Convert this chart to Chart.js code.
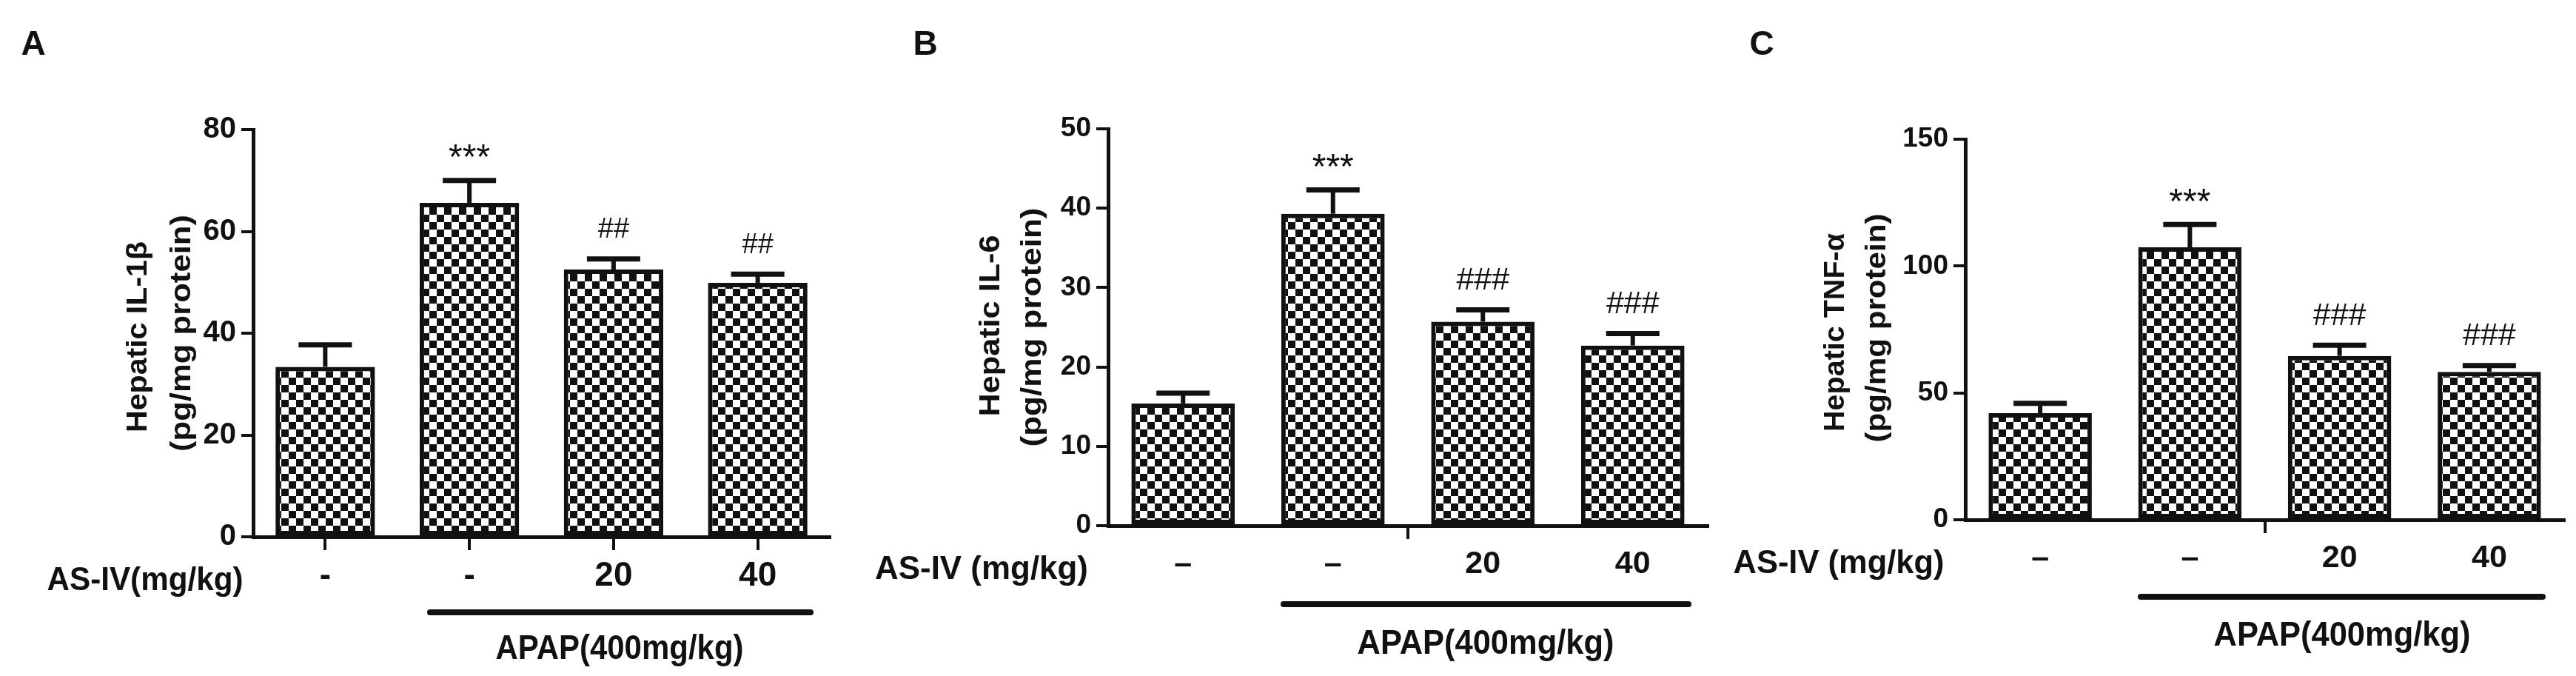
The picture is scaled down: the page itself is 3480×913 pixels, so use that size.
<!DOCTYPE html>
<html>
<head>
<meta charset="utf-8">
<script src="https://cdn.jsdelivr.net/npm/chart.js@4.4.1/dist/chart.umd.min.js"></script>
<style>
  html, body { margin: 0; padding: 0; background: #fff; overflow: hidden; }
  #wrap { position: relative; width: 3480px; height: 913px; }
  #wrap canvas { position: absolute; top: 0; }
</style>
</head>
<body>
<div id="wrap">
  <canvas id="panelA" width="1160" height="913" style="left:0px"></canvas>
  <canvas id="panelB" width="1160" height="913" style="left:1160px"></canvas>
  <canvas id="panelC" width="1160" height="913" style="left:2320px"></canvas>
</div>
<script>
// groups: control, APAP, APAP + AS-IV 20, APAP + AS-IV 40
const doseTicksA = ["-", "-", "20", "40"];
const doseTicksBC = ["\u2013", "\u2013", "20", "40"];

const il1bMean = [33.4, 65.6, 52.5, 49.9];
const il1bSem = [4.3, 4.4, 2.1, 1.7];
const il1bSig = ["", "***", "##", "##"];
const il1bTicks = [0, 20, 40, 60, 80];

const il6Mean = [15.4, 39.3, 25.7, 22.7];
const il6Sem = [1.3, 3.0, 1.5, 1.5];
const il6Sig = ["", "***", "###", "###"];
const il6Ticks = [0, 10, 20, 30, 40, 50];

const tnfMean = [42.0, 107.4, 64.6, 58.3];
const tnfSem = [3.9, 9.0, 4.2, 2.5];
const tnfSig = ["", "***", "###", "###"];
const tnfTicks = [0, 50, 100, 150];

const INK = "#111";
const SANS = "'Liberation Sans', Arial, sans-serif";
const NARROW = "'Liberation Sans Narrow', 'Arial Narrow', 'Liberation Sans', sans-serif";

function checker(ctx) {
  const c = document.createElement("canvas");
  c.width = 20; c.height = 20;
  const g = c.getContext("2d");
  g.fillStyle = "#fff"; g.fillRect(0, 0, 20, 20);
  g.fillStyle = INK;
  g.fillRect(0, 0, 10, 10);
  g.fillRect(10, 10, 10, 10);
  return ctx.createPattern(c, "repeat");
}

// draw text centred visually at (x, y), squeezed/stretched to width w
function fitText(ctx, txt, x, y, font, w, rotate) {
  ctx.save();
  ctx.font = font;
  ctx.translate(x, y);
  if (rotate) ctx.rotate(-Math.PI / 2);
  const m = ctx.measureText(txt);
  if (w) ctx.scale(w / m.width, 1);
  ctx.textAlign = "center";
  ctx.textBaseline = "alphabetic";
  ctx.fillStyle = INK;
  ctx.fillText(txt, 0, (m.actualBoundingBoxAscent - m.actualBoundingBoxDescent) / 2);
  ctx.restore();
}

const deco = {
  id: "deco",
  afterDatasetsDraw(chart, args, o) {
    const ctx = chart.ctx;
    const y = chart.scales.y;
    const meta = chart.getDatasetMeta(0);
    ctx.save();
    ctx.strokeStyle = INK;
    meta.data.forEach((bar, i) => {
      const top = y.getPixelForValue(o.mean[i]);
      const tip = y.getPixelForValue(o.mean[i] + o.sem[i]);
      ctx.lineWidth = 6;
      ctx.beginPath(); ctx.moveTo(bar.x, top); ctx.lineTo(bar.x, tip); ctx.stroke();
      ctx.lineWidth = 7;
      ctx.beginPath(); ctx.moveTo(bar.x - 36, tip); ctx.lineTo(bar.x + 36, tip); ctx.stroke();
      const s = o.sig[i];
      if (s) {
        const isStar = s[0] === "*";
        const size = isStar ? 48 : (s.length === 2 ? 38 : 43);
        fitText(ctx, s, bar.x, tip - (isStar ? 40 : 42), size + "px " + SANS, 0);
      }
    });
    ctx.restore();
  },
  afterDraw(chart, args, o) {
    const ctx = chart.ctx;
    const L = o.layout;
    fitText(ctx, o.letter, L.letter[0], L.letter[1], "bold 46px " + SANS, 0);
    fitText(ctx, o.title[0], L.title1[0], L.title1[1], "bold 38px " + SANS, L.title1[2], true);
    fitText(ctx, o.title[1], L.title2[0], L.title2[1], "bold 38px " + SANS, L.title2[2], true);
    fitText(ctx, o.rowLabel, L.row[0], L.row[1], "bold 44px " + SANS, L.row[2]);
    fitText(ctx, "APAP(400mg/kg)", L.apap[0], L.apap[1], "bold 46px " + SANS, L.apap[2]);
    ctx.save();
    ctx.strokeStyle = INK;
    ctx.lineWidth = 8;
    ctx.lineCap = "round";
    ctx.beginPath();
    ctx.moveTo(L.line[0], L.line[2]);
    ctx.lineTo(L.line[1], L.line[2]);
    ctx.stroke();
    ctx.restore();
  }
};

function makePanel(id, p) {
  const ctx = document.getElementById(id).getContext("2d");
  const a = p.layout.area;
  return new Chart(ctx, {
    type: "bar",
    data: {
      labels: p.ticks,
      datasets: [{
        data: p.mean,
        backgroundColor: checker(ctx),
        borderColor: INK,
        borderWidth: 6,
        borderSkipped: false,
        barPercentage: 0.69,
        categoryPercentage: 1
      }]
    },
    options: {
      responsive: false,
      animation: false,
      devicePixelRatio: 1,
      layout: { padding: { left: 0, right: 1160 - a.right, top: a.top, bottom: 0 } },
      plugins: {
        legend: { display: false },
        tooltip: { enabled: false },
        deco: p
      },
      scales: {
        x: {
          grid: {
            display: true,
            drawOnChartArea: false,
            drawTicks: true,
            tickLength: 18,
            lineWidth: 4,
            offset: p.midTick,
            color: p.midTick ? (c) => (c.index === 2 ? INK : "rgba(0,0,0,0)") : INK
          },
          border: { display: true, color: INK, width: 5 },
          ticks: {
            color: INK,
            font: p.xFont,
            padding: 8,
            maxRotation: 0,
            autoSkip: false
          },
          afterFit(s) { s.height = 913 - a.bottom; }
        },
        y: {
          min: p.yTicks[0],
          max: p.yTicks[p.yTicks.length - 1],
          afterBuildTicks(s) { s.ticks = p.yTicks.map(v => ({ value: v })); },
          grid: { drawOnChartArea: false, drawTicks: true, tickLength: 16, lineWidth: 4, color: INK },
          border: { display: true, color: INK, width: 5 },
          ticks: { color: INK, font: p.yFont, padding: 7 },
          afterFit(s) { s.width = a.left; }
        }
      }
    },
    plugins: [deco]
  });
}

makePanel("panelA", {
  ticks: doseTicksA, mean: il1bMean, sem: il1bSem, sig: il1bSig, yTicks: il1bTicks,
  letter: "A", title: ["Hepatic IL-1\u03b2", "(pg/mg protein)"], rowLabel: "AS-IV(mg/kg)",
  midTick: false,
  xFont: { family: NARROW, size: 46, weight: "bold" },
  yFont: { family: NARROW, size: 40, weight: "bold" },
  layout: {
    area: { left: 342, right: 1121, top: 175, bottom: 725 },
    letter: [45, 58], title1: [188, 455, 258], title2: [247, 450, 320],
    row: [196, 785, 265], apap: [837, 878, 335], line: [581, 1095, 827]
  }
});

makePanel("panelB", {
  ticks: doseTicksBC, mean: il6Mean, sem: il6Sem, sig: il6Sig, yTicks: il6Ticks,
  letter: "B", title: ["Hepatic IL-6", "(pg/mg protein)"], rowLabel: "AS-IV (mg/kg)",
  midTick: true,
  xFont: { family: SANS, size: 43, weight: "bold" },
  yFont: { family: SANS, size: 37, weight: "bold" },
  layout: {
    area: { left: 337, right: 1147, top: 174, bottom: 710 },
    letter: [90, 58], title1: [180, 440, 245], title2: [236, 442, 323],
    row: [166, 770, 288], apap: [847, 871, 347], line: [574, 1121, 816]
  }
});

makePanel("panelC", {
  ticks: doseTicksBC, mean: tnfMean, sem: tnfSem, sig: tnfSig, yTicks: tnfTicks,
  letter: "C", title: ["Hepatic TNF-\u03b1", "(pg/mg protein)"], rowLabel: "AS-IV (mg/kg)",
  midTick: true,
  xFont: { family: SANS, size: 43, weight: "bold" },
  yFont: { family: SANS, size: 37, weight: "bold" },
  layout: {
    area: { left: 335, right: 1144, top: 188, bottom: 702 },
    letter: [60, 58], title1: [161, 449, 268], title2: [217, 443, 309],
    row: [164, 762, 285], apap: [844, 860, 347], line: [572, 1115, 806]
  }
});
</script>
</body>
</html>
